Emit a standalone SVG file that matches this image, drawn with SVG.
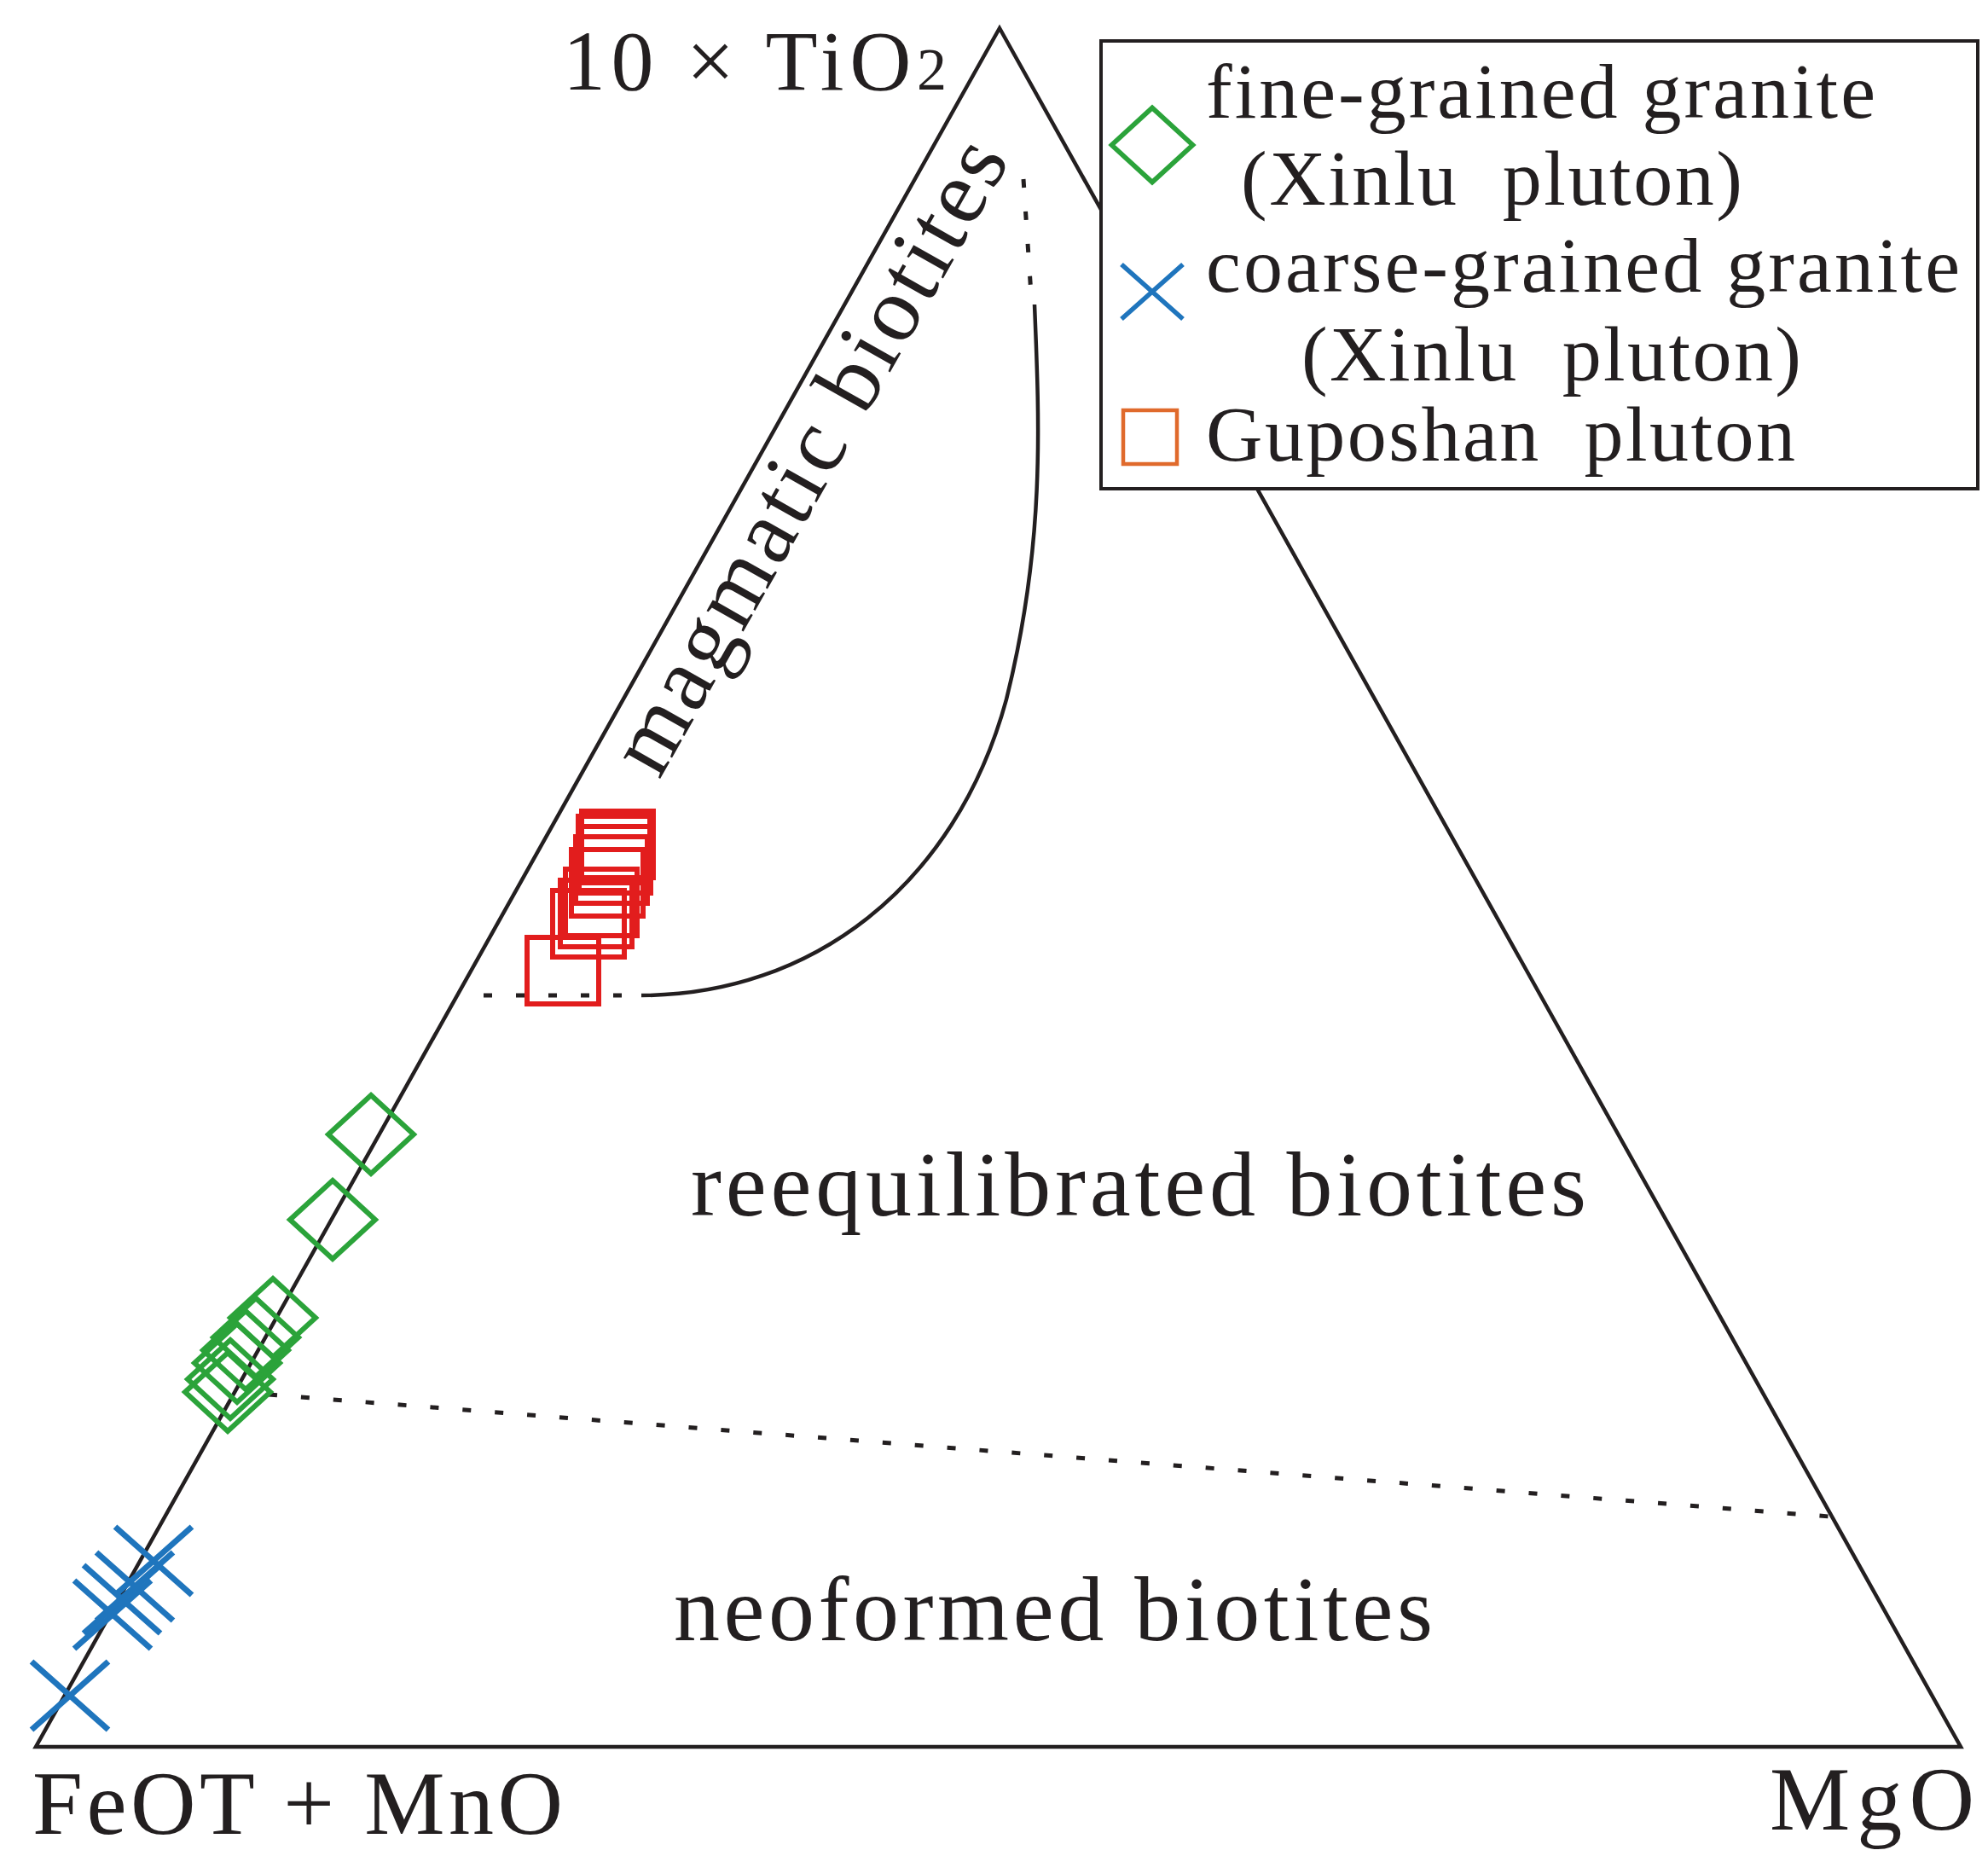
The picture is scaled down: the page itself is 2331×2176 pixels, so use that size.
<svg xmlns="http://www.w3.org/2000/svg" width="2331" height="2176" viewBox="0 0 2331 2176">
<style>
.t{font-family:"Liberation Serif",serif;fill:#231f20}
.ln{fill:none;stroke:#231f20;stroke-width:4.5}
.dot{fill:none;stroke:#231f20;stroke-width:5;stroke-dasharray:10 28}
.sq{fill:none;stroke:#e21d1d;stroke-width:6}
.dm{fill:none;stroke:#2ba33a;stroke-width:6}
.xx{fill:none;stroke:#1f75bd;stroke-width:7}
</style>
<defs>
<polygon id="dia" points="0,-46 50,0 0,46 -50,0"/>
<path id="x" d="M-45,-40 L45,40 M-45,40 L45,-40"/>
<rect id="s" x="-42" y="-39" width="84" height="78"/>
</defs>
<rect width="2331" height="2176" fill="#fff"/>
<g id="axes">
<polygon class="ln" points="1172,33 42,2048 2299,2048"/>
</g>
<g id="connectors">
<path class="ln" d="M1213,357 C1219,500 1225,640 1180,820 C1120,1040 950,1167 752,1167"/>
<line class="dot" x1="1200" y1="210" x2="1209" y2="345"/>
<line class="dot" x1="567" y1="1167" x2="735" y2="1167"/>
<line class="dot" x1="315" y1="1635" x2="2145" y2="1778"/>
</g>
<g id="data-guposhan">
<use href="#s" class="sq" x="660" y="1138"/>
<use href="#s" class="sq" x="690" y="1083"/>
<use href="#s" class="sq" x="699" y="1071"/>
<use href="#s" class="sq" x="705" y="1058"/>
<use href="#s" class="sq" x="712" y="1035"/>
<use href="#s" class="sq" x="717" y="1020"/>
<use href="#s" class="sq" x="721" y="1008"/>
<use href="#s" class="sq" x="720" y="996"/>
<use href="#s" class="sq" x="724" y="990"/>
</g>
<g id="data-fine">
<use href="#dia" class="dm" x="435" y="1330"/>
<use href="#dia" class="dm" x="390" y="1430"/>
<use href="#dia" class="dm" x="320" y="1545"/>
<use href="#dia" class="dm" x="300" y="1568"/>
<use href="#dia" class="dm" x="288" y="1583"/>
<use href="#dia" class="dm" x="278" y="1598"/>
<use href="#dia" class="dm" x="270" y="1617"/>
<use href="#dia" class="dm" x="267" y="1632"/>
</g>
<g id="data-coarse">
<use href="#x" class="xx" x="180" y="1830"/>
<use href="#x" class="xx" x="158" y="1860"/>
<use href="#x" class="xx" x="143" y="1875"/>
<use href="#x" class="xx" x="132" y="1893"/>
<use href="#x" class="xx" x="82" y="1988"/>
</g>
<g id="labels">
<text class="t" x="660" y="105" font-size="100" textLength="450">10 × TiO<tspan font-size="70">2</tspan></text>
<text class="t" x="38" y="2150" font-size="106" textLength="622">FeOT + MnO</text>
<text class="t" x="2075" y="2145" font-size="106" textLength="240">MgO</text>
<text class="t" x="810" y="1425" font-size="108" textLength="1050">reequilibrated biotites</text>
<text class="t" x="790" y="1923" font-size="108" textLength="890">neoformed biotites</text>
<text class="t" font-size="108" textLength="836" transform="translate(773,915) rotate(-60.5)">magmatic biotites</text>
</g>
<g id="legend">
<rect x="1291" y="48" width="1028" height="525" fill="#fff" stroke="#231f20" stroke-width="4"/>
<use href="#dia" class="dm" x="1351" y="170" transform="translate(1351,170) scale(0.95) translate(-1351,-170)"/>
<use href="#x" class="xx" x="1351" y="342" transform="translate(1351,342) scale(0.8) translate(-1351,-342)"/>
<rect x="1317" y="481" width="63" height="63" fill="none" stroke="#e06a2c" stroke-width="4.5"/>
<text class="t" x="1414" y="138" font-size="92" textLength="785">fine-grained granite</text>
<text class="t" x="1455" y="240" font-size="92" textLength="588" xml:space="preserve">(Xinlu  pluton)</text>
<text class="t" x="1414" y="342" font-size="92" textLength="884">coarse-grained granite</text>
<text class="t" x="1526" y="446" font-size="92" textLength="586" xml:space="preserve">(Xinlu  pluton)</text>
<text class="t" x="1414" y="540" font-size="92" textLength="691" xml:space="preserve">Guposhan  pluton</text>
</g>
</svg>
